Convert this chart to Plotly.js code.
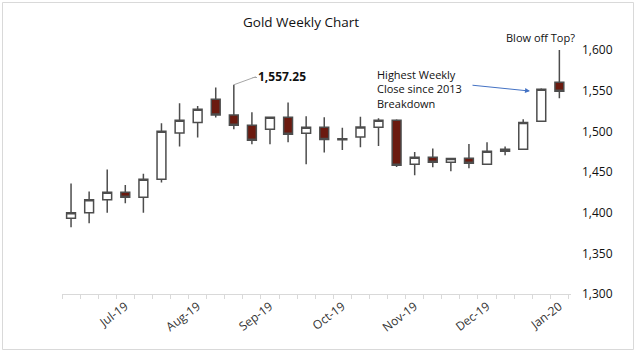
<!DOCTYPE html>
<html>
<head>
<meta charset="utf-8">
<script src="https://cdn.plot.ly/plotly-3.0.1.min.js"></script>
<style>
  html, body { margin: 0; padding: 0; background: #ffffff; }
  #chart { width: 637px; height: 353px; }
</style>
</head>
<body>
<div id="chart"></div>
<script>
// Weekly gold candles (week-ending Fridays)
var weeks = ['2019-07-05','2019-07-12','2019-07-19','2019-07-26','2019-08-02','2019-08-09','2019-08-16',
             '2019-08-23','2019-08-30','2019-09-06','2019-09-13','2019-09-20','2019-09-27','2019-10-04',
             '2019-10-11','2019-10-18','2019-10-25','2019-11-01','2019-11-08','2019-11-15','2019-11-22',
             '2019-11-29','2019-12-06','2019-12-13','2019-12-20','2019-12-27','2020-01-03','2020-01-10'];
var openV  = [1393, 1400, 1416, 1425, 1419, 1441, 1498, 1511, 1539.5, 1520, 1507.5, 1502.5, 1517.3, 1497.5,
              1505, 1491, 1493, 1505, 1513.5, 1459.5, 1468, 1462, 1467, 1459.5, 1475.5, 1478, 1512.5, 1560.3];
var highV  = [1436, 1426, 1453, 1434, 1448, 1510, 1534.5, 1531, 1554, 1557.25, 1523.5, 1517.5, 1535.5, 1518.5,
              1517.3, 1504.5, 1518, 1516, 1514.8, 1474.5, 1479, 1467, 1484.5, 1486.5, 1481.5, 1515, 1553, 1600];
var lowV   = [1382, 1387, 1400, 1411.5, 1400, 1437, 1481.5, 1492.5, 1517, 1502.5, 1484, 1484, 1486.5, 1459.5,
              1474, 1477, 1480.5, 1482, 1456, 1446, 1455.8, 1451, 1454.5, 1459.5, 1470.5, 1478, 1512.5, 1540.6];
var closeV = [1400, 1416, 1425, 1419, 1441, 1500, 1513.5, 1527, 1520, 1507.5, 1489, 1517.3, 1496.5, 1505,
              1490, 1489.5, 1505.3, 1513.5, 1458.3, 1468, 1462, 1466.5, 1460.7, 1475.5, 1478, 1511, 1551.7, 1549.2];

var tickDates = ['2019-07-26','2019-08-23','2019-09-20','2019-10-18','2019-11-15','2019-12-13','2020-01-10'];
var tickText  = ['Jul-19','Aug-19','Sep-19','Oct-19','Nov-19','Dec-19','Jan-20'];
var yTicks    = [1300, 1350, 1400, 1450, 1500, 1550, 1600];

var peakLabel = '1,557.25';
var peakWeek  = weeks[9];
var peakValue = highV[9];

var trace = {
  type: 'candlestick',
  x: weeks, open: openV, high: highV, low: lowV, close: closeV,
  increasing: { line: { color: '#4d4d4d', width: 1.5 }, fillcolor: '#ffffff' },
  decreasing: { line: { color: '#4d4d4d', width: 1.5 }, fillcolor: '#6b1a0f' },
  whiskerwidth: 0,
  hoverinfo: 'skip',
  showlegend: false
};

var W = 509, H = 244, L = 62, T = 50;
function px(x) { return (x - L) / W; }
function py(y) { return (T + H - y) / H; }

var font = 'Open Sans, Lato, sans-serif';

var layout = {
  width: 637, height: 353,
  margin: { l: L, r: 637 - L - W, t: T, b: 353 - T - H, pad: 0 },
  paper_bgcolor: '#ffffff', plot_bgcolor: '#ffffff',
  font: { family: font, color: '#262626', size: 12 },
  showlegend: false,
  xaxis: {
    type: 'date',
    range: ['2019-07-01 12:00', '2020-01-14 12:00'],
    rangeslider: { visible: false },
    tickvals: tickDates, ticktext: tickText,
    tickangle: -37,
    ticks: '', ticklen: 0,
    tickfont: { size: 12, color: '#333333' },
    showgrid: false, zeroline: false,
    showline: true, linecolor: '#d9d9d9', linewidth: 1,
    minor: { ticks: 'outside', ticklen: 4, tickcolor: '#d9d9d9', tickwidth: 1,
             tick0: '2019-07-01 12:00', dtick: 7 * 86400000, showgrid: false },
    fixedrange: true
  },
  yaxis: {
    side: 'right',
    range: [1300, 1600],
    tickvals: yTicks,
    tickformat: ',.0f',
    ticks: '',
    ticklabelstandoff: 10,
    tickfont: { size: 12, color: '#111111' },
    showgrid: false, zeroline: false, showline: false,
    fixedrange: true
  },
  shapes: [
    { type: 'rect', xref: 'paper', yref: 'paper',
      x0: px(2.5), x1: px(633.5), y0: py(349.5), y1: py(2.5),
      line: { color: '#d9d9d9', width: 1 }, fillcolor: 'rgba(0,0,0,0)' },
    { type: 'line', xref: 'paper', yref: 'paper',
      x0: px(252.5), x1: px(257), y0: py(77.5), y1: py(77.5),
      line: { color: '#a6a6a6', width: 1 } }
  ],
  annotations: [
    { text: 'Gold Weekly Chart', xref: 'paper', yref: 'paper', x: px(301), y: py(22),
      xanchor: 'center', yanchor: 'middle',
      showarrow: false, font: { size: 13.5, color: '#111111', family: font } },
    { text: '<b>' + peakLabel + '</b>', x: peakWeek, y: peakValue, xref: 'x', yref: 'y',
      showarrow: true, arrowhead: 0, arrowwidth: 1, arrowcolor: '#a6a6a6', standoff: 0,
      axref: 'pixel', ayref: 'pixel', ax: 22, ay: -8, xanchor: 'left', yanchor: 'middle',
      font: { size: 12, color: '#111111', family: font } },
    { text: 'Blow off Top?', xref: 'paper', yref: 'paper', x: px(540), y: py(37),
      xanchor: 'center', yanchor: 'middle',
      showarrow: false, font: { size: 11, color: '#111111', family: font } },
    { text: 'Highest Weekly<br>Close since 2013<br>Breakdown', xref: 'paper', yref: 'paper',
      x: px(375), y: py(89), xanchor: 'left', yanchor: 'middle', align: 'left',
      showarrow: false, font: { size: 11, color: '#111111', family: font } },
    { text: '', xref: 'paper', yref: 'y', x: px(530), y: 1549.5,
      showarrow: true, arrowhead: 2, arrowsize: 1, arrowwidth: 1, arrowcolor: '#4472c4',
      axref: 'pixel', ayref: 'pixel', ax: -59, ay: -6, standoff: 0 }
  ]
};

Plotly.newPlot('chart', [trace], layout, { displayModeBar: false, staticPlot: true });
</script>
</body>
</html>
